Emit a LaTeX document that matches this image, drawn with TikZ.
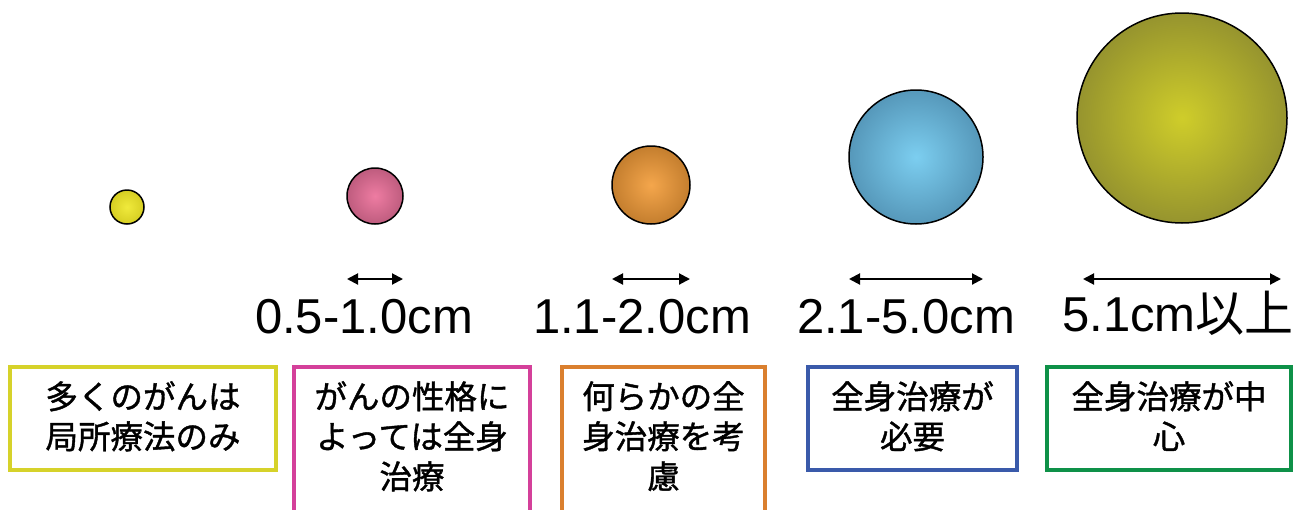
\documentclass[tikz,border=0pt]{standalone}
\usepackage{fontspec}
\setmainfont{Liberation Sans}
\newfontfamily\cjk[FakeBold=1.2]{Noto Sans CJK JP}
\newfontfamily\cjkreg{Noto Sans CJK JP}
\usetikzlibrary{arrows.meta}
\definecolor{ballYin}{HTML}{F0EA3C}\definecolor{ballYout}{HTML}{D6CE22}
\definecolor{ballPin}{HTML}{EE7CA2}\definecolor{ballPout}{HTML}{BE5C7E}
\definecolor{ballOin}{HTML}{F4A64C}\definecolor{ballOout}{HTML}{C47E2E}
\definecolor{ballBin}{HTML}{7CCEF0}\definecolor{ballBout}{HTML}{5698BA}
\definecolor{ballGin}{HTML}{CFCD2A}\definecolor{ballGout}{HTML}{96942E}
\definecolor{boxY}{HTML}{D6D22A}
\definecolor{boxP}{HTML}{D4409A}
\definecolor{boxO}{HTML}{DA7F2E}
\definecolor{boxB}{HTML}{3A5AAA}
\definecolor{boxG}{HTML}{0E9148}
\tikzset{
  ball/.style={circle, draw=black, line width=1.5pt, inner sep=0pt, shading=radial},
  dimarrow/.style={{Triangle[length=11pt,width=11pt]}-{Triangle[length=11pt,width=11pt]}, line width=2pt},
  sizelabel/.style={anchor=base, inner sep=0pt, font=\fontsize{49}{56}\selectfont},
  catbox/.style={draw, line width=4.5pt, fill=white, inner sep=0pt},
  cattext/.style={anchor=north, inner sep=0pt, align=center, font=\cjk\fontsize{32.5}{40}\selectfont}
}
\begin{document}
\begin{tikzpicture}[x=1pt, y=-1pt]
\useasboundingbox (0,0) rectangle (1295,509);
% balls
\node[ball, minimum size=34pt, inner color=ballYin, outer color=ballYout] (b1) at (127,207) {};
\node[ball, minimum size=56pt, inner color=ballPin, outer color=ballPout] (b2) at (375,196) {};
\node[ball, minimum size=78pt, inner color=ballOin, outer color=ballOout] (b3) at (651,185) {};
\node[ball, minimum size=134pt, inner color=ballBin, outer color=ballBout] (b4) at (916,157) {};
\node[ball, minimum size=210pt, inner color=ballGin, outer color=ballGout] (b5) at (1182,118) {};
% dimension arrows
\coordinate (a2l) at (347,279); \coordinate (a2r) at (403,279);
\coordinate (a3l) at (612,279); \coordinate (a3r) at (690,279);
\coordinate (a4l) at (849,279); \coordinate (a4r) at (983,279);
\coordinate (a5l) at (1083,279); \coordinate (a5r) at (1281,279);
\draw[dimarrow] (a2l) -- (a2r);
\draw[dimarrow] (a3l) -- (a3r);
\draw[dimarrow] (a4l) -- (a4r);
\draw[dimarrow] (a5l) -- (a5r);
% size labels
\node[sizelabel] (l2) at (364,333) {0.5-1.0cm};
\node[sizelabel] (l3) at (642,333) {1.1-2.0cm};
\node[sizelabel] (l4) at (906,333) {2.1-5.0cm};
\node[sizelabel] (l5) at (1178,331) {5.1cm{\cjkreg 以上}};
% boxes
\node[catbox, draw=boxY, minimum width=266pt, minimum height=103pt] (c1) at (143,418.5) {};
\node[catbox, draw=boxP, minimum width=236pt, minimum height=200pt] (c2) at (412,467) {};
\node[catbox, draw=boxO, minimum width=203pt, minimum height=200pt] (c3) at (663.5,467) {};
\node[catbox, draw=boxB, minimum width=209pt, minimum height=103pt] (c4) at (912.5,418.5) {};
\node[catbox, draw=boxG, minimum width=244pt, minimum height=103pt] (c5) at (1169,418.5) {};
% box texts
\node[cattext] (t1) at (143,381) {多くのがんは\\局所療法のみ};
\node[cattext] (t2) at (412,381) {がんの性格に\\よっては全身\\治療};
\node[cattext] (t3) at (663.5,381) {何らかの全\\身治療を考\\慮};
\node[cattext] (t4) at (912.5,381) {全身治療が\\必要};
\node[cattext] (t5) at (1169,381) {全身治療が中\\心};
\end{tikzpicture}
\end{document}
